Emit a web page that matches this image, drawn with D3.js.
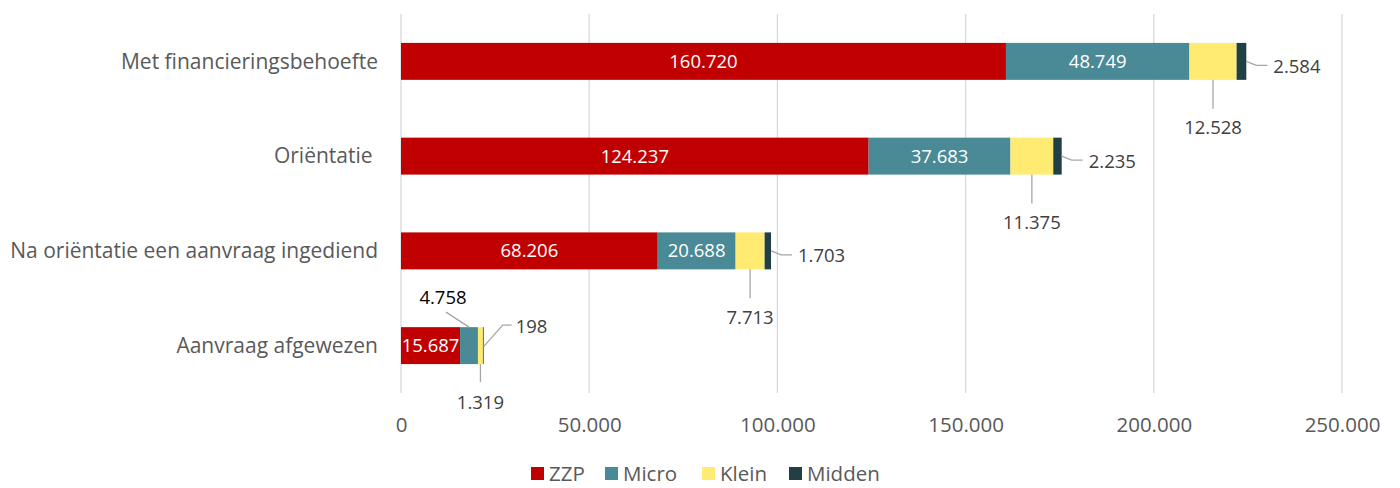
<!DOCTYPE html>
<html>
<head>
<meta charset="utf-8">
<script src="https://cdn.jsdelivr.net/npm/d3@7/dist/d3.min.js"></script>
<style>
  body { margin: 0; background: #fff; }
  svg text { font-family: "Open Sans", "Noto Sans", sans-serif; white-space: pre; }
</style>
</head>
<body>
<div id="chart"></div>
<script>
// categories, top to bottom
const categories = ["Met financieringsbehoefte", "Oriëntatie ", "Na oriëntatie een aanvraag ingediend", "Aanvraag afgewezen"];
const seriesNames = ["ZZP", "Micro", "Klein", "Midden"];
const zzp    = [160720, 124237, 68206, 15687];
const micro  = [48749, 37683, 20688, 4758];
const klein  = [12528, 11375, 7713, 1319];
const midden = [2584, 2235, 1703, 198];
const tickValues = [0, 50000, 100000, 150000, 200000, 250000];

const colors = ["#C00000", "#4A8A96", "#FFEB72", "#223F45"];

let width = 1400, height = 488;
let fmt = d3.format(",d");
let nl = v => fmt(v).replace(/,/g, ".");

let svg = d3.select("#chart").append("svg")
  .attr("width", width)
  .attr("height", height);

let x = d3.scaleLinear().domain([0, 250000]).range([401, 1342]);
let y = d3.scaleBand().domain(categories).range([14, 393])
  .paddingInner(0.61).paddingOuter(0.305);

let rows = categories.map((c, i) => ({cat: c, ZZP: zzp[i], Micro: micro[i], Klein: klein[i], Midden: midden[i]}));
let stack = d3.stack().keys(seriesNames)(rows);

// gridlines
svg.append("g").selectAll("line")
  .data(tickValues)
  .enter().append("line")
  .attr("x1", d => x(d)).attr("x2", d => x(d))
  .attr("y1", 14).attr("y2", 393)
  .attr("stroke", "#d9d9d9").attr("stroke-width", 1.3);

// x axis labels
let xAxis = d3.axisBottom(x).tickValues(tickValues).tickFormat(nl).tickSize(0).tickPadding(0);
let ax = svg.append("g").attr("transform", "translate(0,425)").call(xAxis);
ax.select(".domain").remove();
ax.selectAll("text").attr("fill", "#595959").style("font-size", "20.5px").attr("dy", "0.35em").attr("y", 0);

// category labels
let yAxis = d3.axisLeft(y).tickSize(0).tickPadding(0);
let ay = svg.append("g").attr("transform", "translate(378,0)").call(yAxis);
ay.select(".domain").remove();
ay.selectAll("text").attr("fill", "#595959").style("font-size", "21px").attr("dy", "0.35em");

// bars
let layer = svg.append("g").selectAll("g")
  .data(stack)
  .enter().append("g")
  .attr("fill", (d, i) => colors[i]);

layer.selectAll("rect")
  .data(d => d)
  .enter().append("rect")
  .attr("x", d => x(d[0]))
  .attr("width", d => x(d[1]) - x(d[0]))
  .attr("y", d => y(d.data.cat))
  .attr("height", y.bandwidth());

// data labels
let lbl = svg.append("g");
let bw = y.bandwidth();
let lineCol = "#a6a6a6";
let fs = "18.5px";

stack.forEach((s, si) => {
  s.forEach((d, ri) => {
    let x0 = x(d[0]), x1 = x(d[1]), cx = (x0 + x1) / 2;
    let top = y(d.data.cat), bot = top + bw, cy = top + bw / 2;
    let v = d[1] - d[0];
    let t = nl(v);
    if ((ri < 3 && si < 2) || si == 0) {
      lbl.append("text").attr("x", cx).attr("y", cy).attr("dy", "0.35em")
        .attr("text-anchor", "middle").attr("fill", "#fff").style("font-size", fs).text(t);
      return;
    }
    if (ri == 3 && si == 1) {
      lbl.append("path").attr("d", `M${cx},${top} L${cx - 23},${top - 15}`)
        .attr("stroke", lineCol).attr("stroke-width", 1.3).attr("fill", "none");
      lbl.append("text").attr("x", cx - 26).attr("y", top - 30).attr("dy", "0.35em")
        .attr("text-anchor", "middle").attr("fill", "#000").style("font-size", fs).text(t);
      return;
    }
    if (si == 2) {
      let len = ri == 3 ? 18 : 29;
      let off = ri == 3 ? 38 : 48;
      lbl.append("path").attr("d", `M${cx},${bot} L${cx},${bot + len}`)
        .attr("stroke", lineCol).attr("stroke-width", 1.3).attr("fill", "none");
      lbl.append("text").attr("x", cx).attr("y", bot + off).attr("dy", "0.35em")
        .attr("text-anchor", "middle").attr("fill", "#404040").style("font-size", fs).text(t);
      return;
    }
    if (si == 3) {
      if (ri == 3) {
        lbl.append("path").attr("d", `M${x1},${cy + 1} L${x1 + 19},${top - 2} L${x1 + 28},${top - 2}`)
          .attr("stroke", lineCol).attr("stroke-width", 1.3).attr("fill", "none");
        lbl.append("text").attr("x", x1 + 32).attr("y", top - 1).attr("dy", "0.35em")
          .attr("fill", "#404040").style("font-size", fs).text(t);
      } else {
        lbl.append("path").attr("d", `M${x1},${cy} L${x1 + 10},${cy + 4} L${x1 + 21},${cy + 4}`)
          .attr("stroke", lineCol).attr("stroke-width", 1.3).attr("fill", "none");
        lbl.append("text").attr("x", x1 + 27).attr("y", cy + 5).attr("dy", "0.35em")
          .attr("fill", "#404040").style("font-size", fs).text(t);
      }
    }
  });
});

// legend
let legX = [531, 605, 702, 789];
let leg = svg.append("g").selectAll("g")
  .data(seriesNames)
  .enter().append("g")
  .attr("transform", (d, i) => "translate(" + legX[i] + ",467)");
leg.append("rect").attr("width", 13).attr("height", 13).attr("fill", (d, i) => colors[i]);
leg.append("text").attr("x", 18).attr("y", 6.5).attr("dy", "0.35em")
  .attr("fill", "#595959").style("font-size", "20.5px").text(d => d);
</script>
</body>
</html>
